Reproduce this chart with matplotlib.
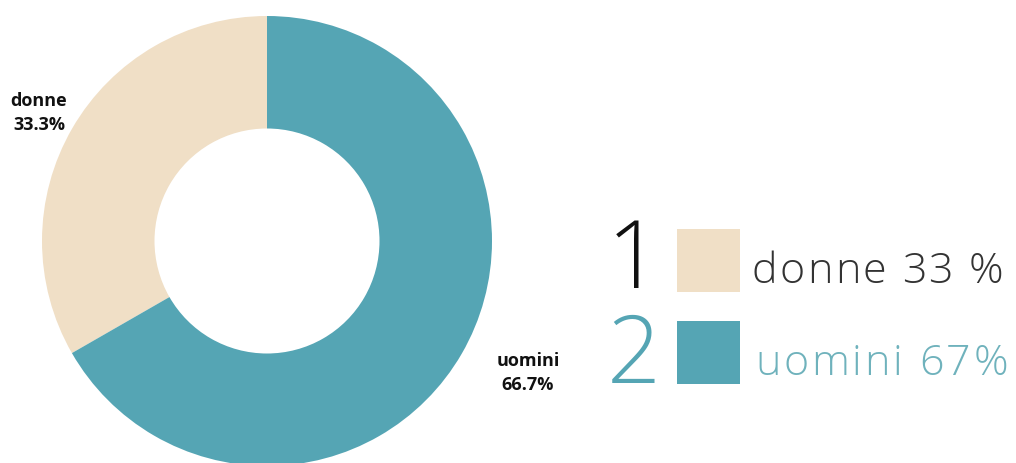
import matplotlib
matplotlib.use("Agg")
import matplotlib.pyplot as plt
from matplotlib.patches import Rectangle

categories = ["donne", "uomini"]
values = [33.3, 66.7]
legend_labels = ["donne 33 %", "uomini 67%"]
legend_numbers = ["1", "2"]
colors = ["#F0DFC6", "#55A5B4"]

W, H = 1016, 464
fig = plt.figure(figsize=(W / 100, H / 100), dpi=100)
fig.patch.set_facecolor("white")

# pie axes: center (267, 242) px from top, radius 225 px
cx, cy, r = 267, 242, 225
ax = fig.add_axes([(cx - r) / W, (H - cy - r) / H, 2 * r / W, 2 * r / H])
ax.pie(values, colors=colors, startangle=90, counterclock=True,
       radius=1.0, wedgeprops=dict(width=0.5, edgecolor="none"))
ax.set_xlim(-1, 1)
ax.set_ylim(-1, 1)
ax.set_aspect("equal")
ax.axis("off")

# overlay axes in pixel coordinates
ov = fig.add_axes([0, 0, 1, 1], zorder=5)
ov.set_xlim(0, W)
ov.set_ylim(H, 0)
ov.axis("off")
ov.patch.set_alpha(0)

bold = dict(family=["Open Sans", "DejaVu Sans"], fontweight="bold", fontsize=13,
            color="#111111", ha="center", va="center", linespacing=1.45)
ov.text(39, 113, f"{categories[0]}\n{values[0]:.1f}%", **bold)
ov.text(528, 373, f"{categories[1]}\n{values[1]:.1f}%", **bold)

light = dict(family=["Open Sans", "DejaVu Sans"], fontweight="light")
num_colors = ["#111111", "#55A5B4"]
txt_colors = ["#333333", "#6FB2BC"]
num_base = [288, 383]
sq_top = [230, 322]
txt_base = [283, 375]
txt_left = [752, 755]
txt_right = [1003, 1008]

fig.canvas.draw()
renderer = fig.canvas.get_renderer()


def spaced_text(x0, x1, y, s, **kw):
    # measure each character's advance
    widths = []
    for ch in s:
        t = ov.text(0, 0, ch if ch != " " else "\u00a0", **kw)
        bb = t.get_window_extent(renderer=renderer)
        widths.append(bb.width)
        t.remove()
    total = sum(widths)
    gap = (x1 - x0 - total) / max(len(s) - 1, 1)
    x = x0
    for ch, w in zip(s, widths):
        ov.text(x, y, ch, va="baseline", ha="left", **kw)
        x += w + gap


for i in range(2):
    ov.text(607, num_base[i], legend_numbers[i], fontsize=68, color=num_colors[i],
            va="baseline", ha="left", **light)
    ov.add_patch(Rectangle((677, sq_top[i]), 63, 63, facecolor=colors[i], edgecolor="none"))
    spaced_text(txt_left[i], txt_right[i], txt_base[i], legend_labels[i],
                fontsize=31, color=txt_colors[i], **light)

fig.savefig("out.png", dpi=100, facecolor="white")
